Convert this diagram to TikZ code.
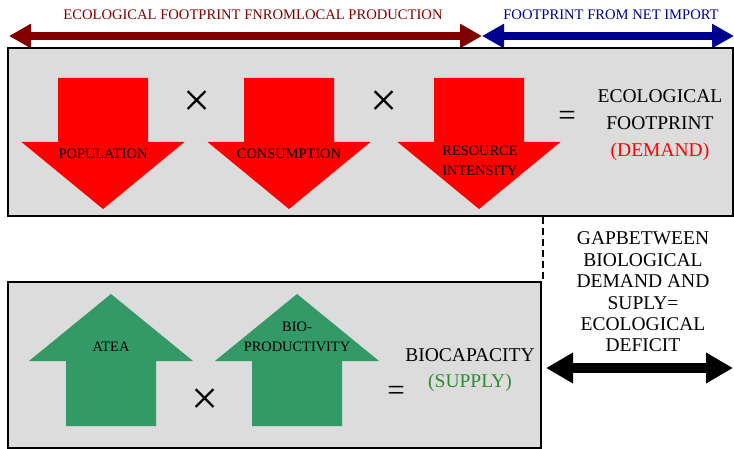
\documentclass[tikz,border=0pt]{standalone}
\usepackage{fontspec}
\setmainfont{Liberation Serif}
\usetikzlibrary{arrows.meta}
\definecolor{boxgray}{HTML}{DCDCDC}
\definecolor{arrred}{HTML}{FF0000}
\definecolor{arrgreen}{HTML}{339966}
\definecolor{maroonc}{HTML}{800000}
\definecolor{navyc}{HTML}{000090}
\definecolor{supplyc}{HTML}{2E8B2E}
\tikzset{
  panel/.style={draw=black,line width=1.6pt,fill=boxgray},
  smalllab/.style={inner sep=0pt,font=\fontsize{14.4}{20}\selectfont,align=center},
  biglab/.style={inner sep=0pt,font=\fontsize{19.5}{27}\selectfont,align=center},
  toplab/.style={inner sep=0pt,font=\fontsize{14.6}{18}\selectfont},
  opsym/.style={inner sep=0pt,font=\fontsize{48}{48}\selectfont},
  eqsym/.style={inner sep=0pt,font=\fontsize{31}{31}\selectfont},
  downarr/.pic={\fill[arrred] (-45,78) -- (45,78) -- (45,142) -- (81.5,142) -- (0,209) -- (-81.5,142) -- (-45,142) -- cycle;},
  uparr/.pic={\fill[arrgreen] (-45,426) -- (45,426) -- (45,361) -- (82,361) -- (0,294) -- (-82,361) -- (-45,361) -- cycle;}
}
\begin{document}
\begin{tikzpicture}[x=1pt,y=-1pt]
\useasboundingbox (0,0) rectangle (734,449);
% top labels
\node[toplab,text=maroonc] (tl1) at (253,15) {ECOLOGICAL FOOTPRINT FNROMLOCAL PRODUCTION};
\node[toplab,text=navyc] (tl2) at (611,15) {FOOTPRINT FROM NET IMPORT};
% top arrows
\coordinate (a1) at (9,36);
\coordinate (a2) at (482,36);
\coordinate (a3) at (734,36);
\draw[maroonc,line width=8pt,{Triangle[length=22pt,width=23pt]}-{Triangle[length=22pt,width=23pt]}] (a1) -- (a2);
\draw[navyc,line width=8pt,{Triangle[length=22pt,width=23pt]}-{Triangle[length=22pt,width=23pt]}] (a2) -- (a3);
% boxes
\path[panel] (8,48) rectangle (733,216);
\path[panel] (8,282) rectangle (541,448);
% down arrows
\pic at (103,0) {downarr};
\pic at (289,0) {downarr};
\pic at (479,0) {downarr};
\node[smalllab] (pop) at (103,154) {POPULATION};
\node[smalllab] (con) at (289,154) {CONSUMPTION};
\node[smalllab] (res) at (480,161) {RESOURCE\\INTENSITY};
\node[opsym] (x1) at (197,104) {×};
\node[opsym] (x2) at (384,104) {×};
\node[eqsym] (eq1) at (567,118) {=};
\node[biglab] (ef) at (660,125) {ECOLOGICAL\\FOOTPRINT\\\textcolor{arrred}{(DEMAND)}};
% up arrows
\pic at (111,0) {uparr};
\pic at (297,0) {uparr};
\node[smalllab] (atea) at (111,347) {ATEA};
\node[smalllab] (bio) at (297,337) {BIO-\\PRODUCTIVITY};
\node[opsym] (x3) at (205,402) {×};
\node[eqsym] (eq2) at (396,393) {=};
\node[biglab,font=\fontsize{19.5}{26}\selectfont] (bc) at (470,370) {BIOCAPACITY\\\textcolor{supplyc}{(SUPPLY)}};
% gap
\coordinate (d1) at (543,217);
\coordinate (d2) at (543,281);
\draw[dashed,line width=1.3pt,dash pattern=on 7pt off 4pt] (d1) -- (d2);
\node[biglab,font=\fontsize{19.5}{21.4}\selectfont] (gap) at (643,292) {GAPBETWEEN\\BIOLOGICAL\\DEMAND AND\\SUPLY=\\ECOLOGICAL\\DEFICIT};
\coordinate (b1) at (546,368);
\coordinate (b2) at (733,368);
\draw[black,line width=10pt,{Triangle[length=27pt,width=29pt]}-{Triangle[length=27pt,width=29pt]}] (b1) -- (b2);
\end{tikzpicture}
\end{document}
